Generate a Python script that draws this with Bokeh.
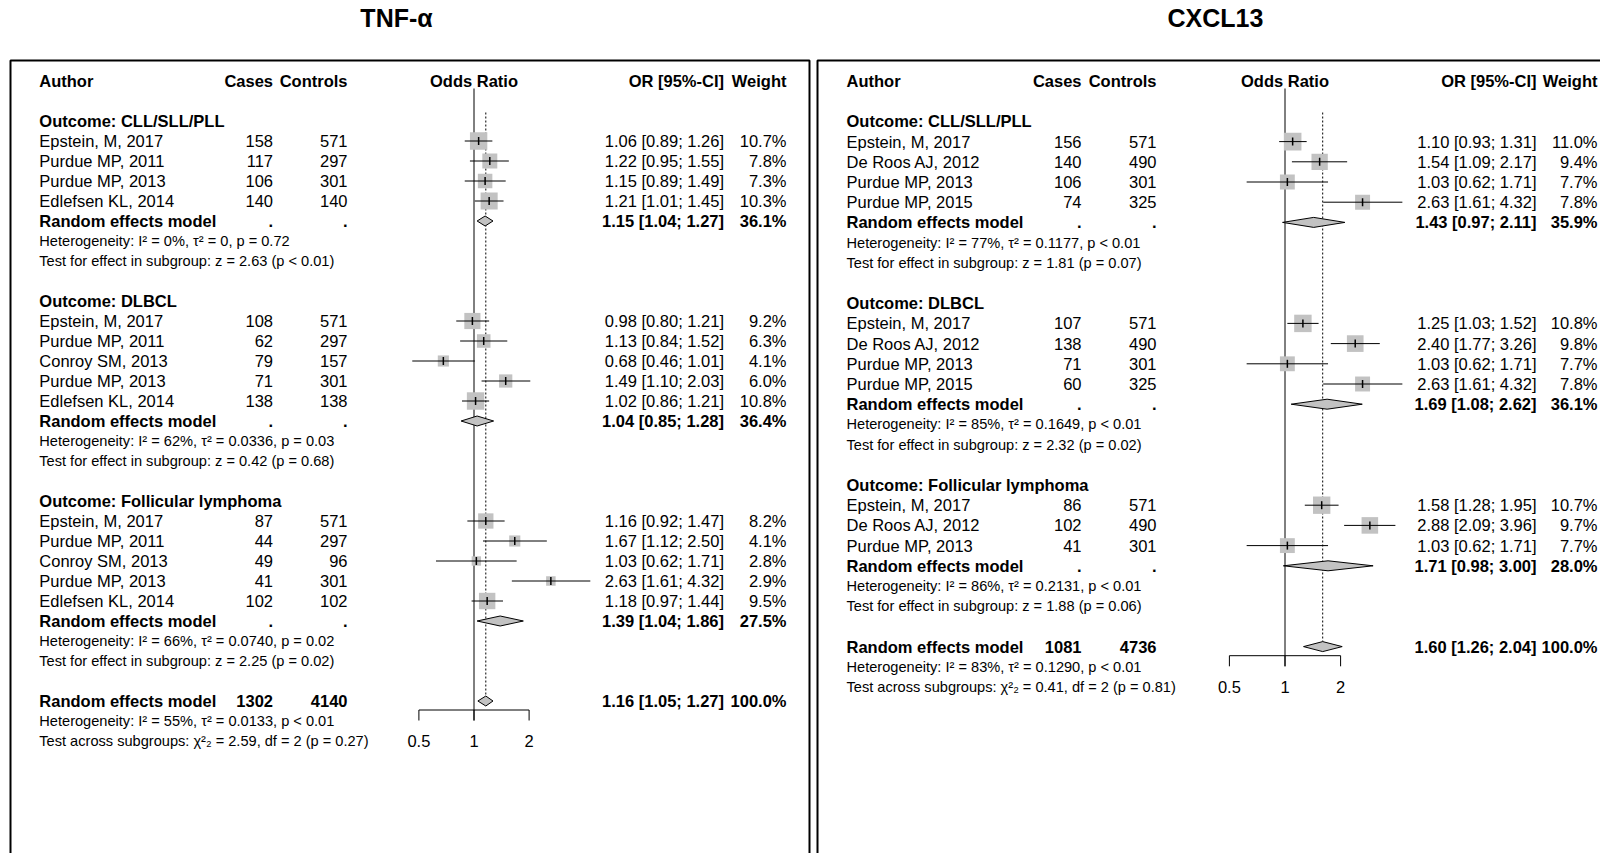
import math
from bokeh.plotting import figure
from bokeh.models import Range1d, LogScale, ColumnDataSource
from bokeh.embed import file_html
from bokeh.resources import INLINE
from bokeh.core.properties import value

# ---------------- DATA: TNF-alpha ----------------
TNF_STUDY = ["Epstein, M, 2017", "Purdue MP, 2011", "Purdue MP, 2013", "Edlefsen KL, 2014",
             "Epstein, M, 2017", "Purdue MP, 2011", "Conroy SM, 2013", "Purdue MP, 2013", "Edlefsen KL, 2014",
             "Epstein, M, 2017", "Purdue MP, 2011", "Conroy SM, 2013", "Purdue MP, 2013", "Edlefsen KL, 2014"]
TNF_OUTCOME = ["CLL/SLL/PLL", "CLL/SLL/PLL", "CLL/SLL/PLL", "CLL/SLL/PLL",
               "DLBCL", "DLBCL", "DLBCL", "DLBCL", "DLBCL",
               "Follicular lymphoma", "Follicular lymphoma", "Follicular lymphoma",
               "Follicular lymphoma", "Follicular lymphoma"]
TNF_CASES = [158, 117, 106, 140, 108, 62, 79, 71, 138, 87, 44, 49, 41, 102]
TNF_CONTROLS = [571, 297, 301, 140, 571, 297, 157, 301, 138, 571, 297, 96, 301, 102]
TNF_OR = [1.06, 1.22, 1.15, 1.21, 0.98, 1.13, 0.68, 1.49, 1.02, 1.16, 1.67, 1.03, 2.63, 1.18]
TNF_LO = [0.89, 0.95, 0.89, 1.01, 0.80, 0.84, 0.46, 1.10, 0.86, 0.92, 1.12, 0.62, 1.61, 0.97]
TNF_HI = [1.26, 1.55, 1.49, 1.45, 1.21, 1.52, 1.01, 2.03, 1.21, 1.47, 2.50, 1.71, 4.32, 1.44]
TNF_WEIGHT = [10.7, 7.8, 7.3, 10.3, 9.2, 6.3, 4.1, 6.0, 10.8, 8.2, 4.1, 2.8, 2.9, 9.5]
TNF_SUB_OUTCOME = ["CLL/SLL/PLL", "DLBCL", "Follicular lymphoma"]
TNF_SUB_OR = [1.15, 1.04, 1.39]
TNF_SUB_LO = [1.04, 0.85, 1.04]
TNF_SUB_HI = [1.27, 1.28, 1.86]
TNF_SUB_WEIGHT = [36.1, 36.4, 27.5]
TNF_SUB_HET = ["Heterogeneity: I² = 0%, τ² = 0, p = 0.72",
               "Heterogeneity: I² = 62%, τ² = 0.0336, p = 0.03",
               "Heterogeneity: I² = 66%, τ² = 0.0740, p = 0.02"]
TNF_SUB_TEST = ["Test for effect in subgroup: z = 2.63 (p < 0.01)",
                "Test for effect in subgroup: z = 0.42 (p = 0.68)",
                "Test for effect in subgroup: z = 2.25 (p = 0.02)"]
TNF_ALL = [1302, 4140, 1.16, 1.05, 1.27, 100.0]
TNF_ALL_HET = "Heterogeneity: I² = 55%, τ² = 0.0133, p < 0.01"
TNF_ALL_TEST = "Test across subgroups: χ²₂ = 2.59, df = 2 (p = 0.27)"

# ---------------- DATA: CXCL13 ----------------
CX_STUDY = ["Epstein, M, 2017", "De Roos AJ, 2012", "Purdue MP, 2013", "Purdue MP, 2015",
            "Epstein, M, 2017", "De Roos AJ, 2012", "Purdue MP, 2013", "Purdue MP, 2015",
            "Epstein, M, 2017", "De Roos AJ, 2012", "Purdue MP, 2013"]
CX_OUTCOME = ["CLL/SLL/PLL", "CLL/SLL/PLL", "CLL/SLL/PLL", "CLL/SLL/PLL",
              "DLBCL", "DLBCL", "DLBCL", "DLBCL",
              "Follicular lymphoma", "Follicular lymphoma", "Follicular lymphoma"]
CX_CASES = [156, 140, 106, 74, 107, 138, 71, 60, 86, 102, 41]
CX_CONTROLS = [571, 490, 301, 325, 571, 490, 301, 325, 571, 490, 301]
CX_OR = [1.10, 1.54, 1.03, 2.63, 1.25, 2.40, 1.03, 2.63, 1.58, 2.88, 1.03]
CX_LO = [0.93, 1.09, 0.62, 1.61, 1.03, 1.77, 0.62, 1.61, 1.28, 2.09, 0.62]
CX_HI = [1.31, 2.17, 1.71, 4.32, 1.52, 3.26, 1.71, 4.32, 1.95, 3.96, 1.71]
CX_WEIGHT = [11.0, 9.4, 7.7, 7.8, 10.8, 9.8, 7.7, 7.8, 10.7, 9.7, 7.7]
CX_SUB_OUTCOME = ["CLL/SLL/PLL", "DLBCL", "Follicular lymphoma"]
CX_SUB_OR = [1.43, 1.69, 1.71]
CX_SUB_LO = [0.97, 1.08, 0.98]
CX_SUB_HI = [2.11, 2.62, 3.00]
CX_SUB_WEIGHT = [35.9, 36.1, 28.0]
CX_SUB_HET = ["Heterogeneity: I² = 77%, τ² = 0.1177, p < 0.01",
              "Heterogeneity: I² = 85%, τ² = 0.1649, p < 0.01",
              "Heterogeneity: I² = 86%, τ² = 0.2131, p < 0.01"]
CX_SUB_TEST = ["Test for effect in subgroup: z = 1.81 (p = 0.07)",
               "Test for effect in subgroup: z = 2.32 (p = 0.02)",
               "Test for effect in subgroup: z = 1.88 (p = 0.06)"]
CX_ALL = [1081, 4736, 1.60, 1.26, 2.04, 100.0]
CX_ALL_HET = "Heterogeneity: I² = 83%, τ² = 0.1290, p < 0.01"
CX_ALL_TEST = "Test across subgroups: χ²₂ = 0.41, df = 2 (p = 0.81)"

TICKS = [0.5, 1, 2]
TICK_LABELS = ["0.5", "1", "2"]

# ---------------- STYLE / LAYOUT ----------------
FONT = value("Liberation Sans")
MAIN = "16.5px"
SMALL = "14.6px"
SQ_COLOR = "#c2c2c2"
PAGE_L, PAGE_R, PAGE_T, PAGE_B = 0, 1600, 0, 853

p = figure(width=PAGE_R - PAGE_L, height=PAGE_B - PAGE_T,
           x_range=Range1d(PAGE_L, PAGE_R), y_range=Range1d(PAGE_B, PAGE_T),
           output_backend="svg", toolbar_location=None, min_border=0,
           x_axis_location=None, y_axis_location=None)
p.grid.visible = False
p.outline_line_color = None
p.background_fill_color = "white"


def log_range(x_one, unit):
    return Range1d(2 ** ((PAGE_L - x_one) / unit), 2 ** ((PAGE_R - x_one) / unit))


PANELS = {
    "tnf": dict(x_one=473.5, unit=55.1, y0=80.5, pitch=20.0, xa=38.8, xc=272.5, xk=347.0,
                xo=723.5, xw=786.0, title="TNF-α", title_x=396, box=(10, 809)),
    "cx": dict(x_one=1284.5, unit=55.6, y0=80.5, pitch=20.2, xa=846.0, xc=1081.0, xk=1156.0,
               xo=1536.0, xw=1597.0, title="CXCL13", title_x=1215, box=(817, 1650)),
}
p.extra_x_ranges = {k: log_range(c["x_one"], c["unit"]) for k, c in PANELS.items()}
p.extra_x_scales = {k: LogScale() for k in PANELS}

texts = {}


def add(x, y, s, align="left", bold=False, size=MAIN):
    d = texts.setdefault((align, bold, size), dict(x=[], y=[], t=[]))
    d["x"].append(x)
    d["y"].append(y)
    d["t"].append(s)


def ci(o, l, h):
    return f"{o:.2f} [{l:.2f}; {h:.2f}]"


def draw_panel(rn, study, outcome, cases, controls, orv, lo, hi, w,
               sub_out, sub_or, sub_lo, sub_hi, sub_w, sub_het, sub_test,
               allv, all_het, all_test):
    c = PANELS[rn]
    Y = lambda k: c["y0"] + c["pitch"] * k
    # title and box
    add(c["title_x"], 17, c["title"], "center", True, "25px")
    bl, br = c["box"]
    p.multi_line(xs=[[bl, bl, br, br]], ys=[[880, 60, 60, 880]], line_color="black", line_width=2)
    # header
    add(c["xa"], Y(0), "Author", "left", True)
    add(c["xc"], Y(0), "Cases", "right", True)
    add(c["xk"], Y(0), "Controls", "right", True)
    add(c["x_one"], Y(0), "Odds Ratio", "center", True)
    add(c["xo"], Y(0), "OR [95%-CI]", "right", True)
    add(c["xw"], Y(0), "Weight", "right", True)

    sq = dict(x=[], y=[], s=[], lo=[], hi=[], y0=[], y1=[])
    dia_x, dia_y = [], []
    k = 2
    for gi, g in enumerate(sub_out):
        add(c["xa"], Y(k), "Outcome: " + g, "left", True)
        for i in range(len(study)):
            if outcome[i] != g:
                continue
            k += 1
            y = Y(k)
            add(c["xa"], y, study[i])
            add(c["xc"], y, str(cases[i]), "right")
            add(c["xk"], y, str(controls[i]), "right")
            add(c["xo"], y, ci(orv[i], lo[i], hi[i]), "right")
            add(c["xw"], y, f"{w[i]:.1f}%", "right")
            sq["x"].append(orv[i]); sq["y"].append(y); sq["s"].append(5.0 * math.sqrt(w[i]) + 1)
            sq["lo"].append(lo[i]); sq["hi"].append(hi[i])
            sq["y0"].append(y - 4); sq["y1"].append(y + 4)
        k += 1
        y = Y(k)
        add(c["xa"], y, "Random effects model", "left", True)
        add(c["xc"], y, ".", "right", True)
        add(c["xk"], y, ".", "right", True)
        add(c["xo"], y, ci(sub_or[gi], sub_lo[gi], sub_hi[gi]), "right", True)
        add(c["xw"], y, f"{sub_w[gi]:.1f}%", "right", True)
        dia_x.append([sub_lo[gi], sub_or[gi], sub_hi[gi], sub_or[gi]])
        dia_y.append([y, y - 5, y, y + 5])
        k += 1
        add(c["xa"], Y(k), sub_het[gi], size=SMALL)
        k += 1
        add(c["xa"], Y(k), sub_test[gi], size=SMALL)
        k += 2
    ko = k
    y = Y(ko)
    add(c["xa"], y, "Random effects model", "left", True)
    add(c["xc"], y, str(allv[0]), "right", True)
    add(c["xk"], y, str(allv[1]), "right", True)
    add(c["xo"], y, ci(allv[2], allv[3], allv[4]), "right", True)
    add(c["xw"], y, f"{allv[5]:.1f}%", "right", True)
    dia_x.append([allv[3], allv[2], allv[4], allv[2]])
    dia_y.append([y, y - 5, y, y + 5])
    add(c["xa"], Y(ko + 1), all_het, size=SMALL)
    add(c["xa"], Y(ko + 2), all_test, size=SMALL)

    axis_y = y + 0.45 * c["pitch"]
    tick_bot = Y(ko + 1) - 0.5
    # reference lines
    p.segment(x0=[1], x1=[1], y0=[88], y1=[tick_bot], x_range_name=rn, line_color="black", line_width=1)
    p.segment(x0=[allv[2]], x1=[allv[2]], y0=[112], y1=[y - 5], x_range_name=rn,
              line_color="black", line_width=1, line_dash="2 2")
    # squares + CIs
    src = ColumnDataSource(sq)
    p.scatter(x="x", y="y", size="s", marker="square", source=src, x_range_name=rn,
              fill_color=SQ_COLOR, line_color=None)
    p.segment(x0="lo", x1="hi", y0="y", y1="y", source=src, x_range_name=rn, line_color="black", line_width=1)
    p.segment(x0="x", x1="x", y0="y0", y1="y1", source=src, x_range_name=rn, line_color="black", line_width=1.5)
    # diamonds
    p.patches(xs=dia_x, ys=dia_y, x_range_name=rn, fill_color=SQ_COLOR, line_color="black", line_width=1)
    # axis
    p.segment(x0=[TICKS[0]], x1=[TICKS[-1]], y0=[axis_y], y1=[axis_y], x_range_name=rn,
              line_color="black", line_width=1)
    p.segment(x0=TICKS, x1=TICKS, y0=[axis_y] * len(TICKS), y1=[tick_bot] * len(TICKS),
              x_range_name=rn, line_color="black", line_width=1)
    p.text(x=TICKS, y=[Y(ko + 2)] * len(TICKS), text=TICK_LABELS, x_range_name=rn,
           text_align="center", text_baseline="middle", text_font=FONT, text_font_size=MAIN,
           text_color="black")


draw_panel("tnf", TNF_STUDY, TNF_OUTCOME, TNF_CASES, TNF_CONTROLS, TNF_OR, TNF_LO, TNF_HI, TNF_WEIGHT,
           TNF_SUB_OUTCOME, TNF_SUB_OR, TNF_SUB_LO, TNF_SUB_HI, TNF_SUB_WEIGHT, TNF_SUB_HET, TNF_SUB_TEST,
           TNF_ALL, TNF_ALL_HET, TNF_ALL_TEST)
draw_panel("cx", CX_STUDY, CX_OUTCOME, CX_CASES, CX_CONTROLS, CX_OR, CX_LO, CX_HI, CX_WEIGHT,
           CX_SUB_OUTCOME, CX_SUB_OR, CX_SUB_LO, CX_SUB_HI, CX_SUB_WEIGHT, CX_SUB_HET, CX_SUB_TEST,
           CX_ALL, CX_ALL_HET, CX_ALL_TEST)

for (align, bold, size), d in texts.items():
    p.text(x="x", y="y", text="t", source=ColumnDataSource(d), text_align=align,
           text_baseline="middle", text_font=FONT, text_font_size=size,
           text_font_style="bold" if bold else "normal", text_color="black")

open("out.html", "w").write(file_html(p, INLINE))
